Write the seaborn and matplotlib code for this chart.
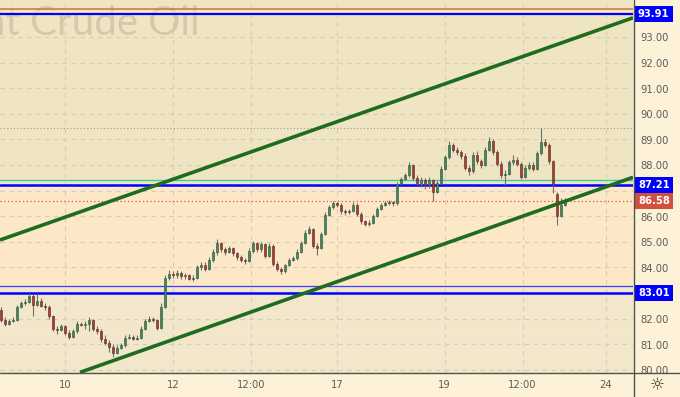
import matplotlib
matplotlib.use('Agg')
import matplotlib.pyplot as plt
from matplotlib.lines import Line2D
from matplotlib.patches import Rectangle
import seaborn as sns
import numpy as np

# ---------------- data ----------------
open_ = [82.35, 81.95, 81.80, 81.90, 81.95, 82.45, 82.60, 82.65, 82.90, 82.55,
         82.70, 82.50, 82.45, 82.10, 81.60, 81.55, 81.70, 81.45, 81.30, 81.50,
         81.80, 81.75, 81.80, 81.95, 81.60, 81.50, 81.20, 81.05, 80.90, 80.65,
         80.85, 80.95, 81.25, 81.30, 81.20, 81.25, 81.60, 81.90, 82.00, 81.95,
         81.65, 82.45, 83.60, 83.75, 83.70, 83.80, 83.65, 83.70, 83.55, 83.60,
         84.00, 84.10, 83.95, 84.30, 84.60, 84.95, 84.70, 84.60, 84.75, 84.55,
         84.40, 84.30, 84.25, 84.65, 84.95, 84.70, 84.90, 84.45, 84.85, 84.15,
         83.95, 83.85, 84.10, 84.30, 84.35, 84.60, 84.95, 85.35, 85.50, 84.85,
         84.75, 85.30, 86.05, 86.35, 86.50, 86.45, 86.20, 86.15, 86.20, 86.45,
         86.10, 85.80, 85.70, 85.75, 86.00, 86.30, 86.45, 86.50, 86.55, 86.50,
         87.25, 87.45, 87.60, 88.00, 87.50, 87.30, 87.40, 87.20, 87.40, 86.95,
         87.30, 87.85, 88.30, 88.80, 88.60, 88.50, 88.35, 87.90, 87.75, 88.40,
         88.15, 88.00, 88.60, 88.95, 88.50, 88.05, 87.60, 87.65, 88.10, 88.20,
         88.05, 87.55, 87.90, 88.00, 87.85, 88.45, 88.90, 88.80, 88.15, 86.85,
         86.00, 86.45]
close = [81.95, 81.80, 81.90, 81.95, 82.45, 82.60, 82.65, 82.90, 82.55, 82.70,
         82.50, 82.45, 82.10, 81.60, 81.55, 81.70, 81.45, 81.30, 81.50, 81.80,
         81.75, 81.80, 81.95, 81.60, 81.50, 81.20, 81.05, 80.90, 80.65, 80.85,
         80.95, 81.25, 81.30, 81.20, 81.25, 81.60, 81.90, 82.00, 81.95, 81.65,
         82.45, 83.60, 83.75, 83.70, 83.80, 83.65, 83.70, 83.55, 83.60, 84.00,
         84.10, 83.95, 84.30, 84.60, 84.95, 84.70, 84.60, 84.75, 84.55, 84.40,
         84.30, 84.25, 84.65, 84.95, 84.70, 84.90, 84.45, 84.85, 84.15, 83.95,
         83.85, 84.10, 84.30, 84.35, 84.60, 84.95, 85.35, 85.50, 84.85, 84.75,
         85.30, 86.05, 86.35, 86.50, 86.45, 86.20, 86.15, 86.20, 86.45, 86.10,
         85.80, 85.70, 85.75, 86.00, 86.30, 86.45, 86.50, 86.55, 86.50, 87.25,
         87.45, 87.60, 88.00, 87.50, 87.30, 87.40, 87.20, 87.40, 86.95, 87.30,
         87.85, 88.30, 88.80, 88.60, 88.50, 88.35, 87.90, 87.75, 88.40, 88.15,
         88.00, 88.60, 88.95, 88.50, 88.05, 87.60, 87.65, 88.10, 88.20, 88.05,
         87.55, 87.90, 88.00, 87.85, 88.45, 88.90, 88.80, 88.15, 87.25, 86.00,
         86.45, 86.58]
high = [82.45, 82.05, 82.00, 82.05, 82.55, 82.70, 82.75, 83.00, 82.95, 82.95,
        82.80, 82.60, 82.55, 82.15, 81.70, 81.80, 81.75, 81.55, 81.60, 81.90,
        81.85, 81.90, 82.05, 82.00, 81.70, 81.60, 81.35, 81.15, 81.00, 80.95,
        81.05, 81.35, 81.40, 81.35, 81.35, 81.70, 82.00, 82.10, 82.05, 82.00,
        82.60, 83.70, 83.90, 83.85, 83.90, 83.85, 83.80, 83.75, 83.70, 84.10,
        84.20, 84.20, 84.40, 84.70, 85.10, 85.00, 84.80, 84.85, 84.80, 84.60,
        84.50, 84.35, 84.75, 85.05, 85.00, 85.00, 84.95, 84.95, 84.90, 84.25,
        84.00, 84.15, 84.35, 84.45, 84.70, 85.05, 85.45, 85.60, 85.55, 84.95,
        85.40, 86.15, 86.45, 86.60, 86.55, 86.50, 86.30, 86.30, 86.55, 86.50,
        86.15, 85.85, 85.85, 86.10, 86.35, 86.50, 86.60, 86.65, 86.60, 87.35,
        87.55, 87.70, 88.10, 88.05, 87.60, 87.55, 87.50, 87.55, 87.45, 87.40,
        87.95, 88.40, 88.95, 88.85, 88.70, 88.60, 88.45, 88.00, 88.50, 88.55,
        88.25, 88.70, 89.10, 89.00, 88.60, 88.15, 87.80, 88.20, 88.40, 88.30,
        88.10, 88.00, 88.10, 88.10, 88.55, 89.45, 89.00, 88.85, 88.20, 86.95,
        86.70, 86.70]
low = [81.85, 81.70, 81.75, 81.85, 81.90, 82.40, 82.55, 82.60, 82.10, 82.50,
       82.45, 82.35, 82.00, 81.50, 81.40, 81.50, 81.35, 81.20, 81.25, 81.45,
       81.70, 81.60, 81.50, 81.50, 81.40, 81.10, 80.95, 80.70, 80.50, 80.60,
       80.80, 80.90, 81.20, 81.15, 81.15, 81.20, 81.55, 81.85, 81.85, 81.55,
       81.60, 82.40, 83.50, 83.60, 83.60, 83.55, 83.55, 83.50, 83.45, 83.55,
       83.90, 83.85, 83.90, 84.20, 84.50, 84.60, 84.50, 84.55, 84.45, 84.30,
       84.20, 84.15, 84.20, 84.55, 84.60, 84.60, 84.35, 84.40, 84.05, 83.85,
       83.75, 83.80, 84.05, 84.25, 84.30, 84.55, 84.90, 85.30, 84.75, 84.50,
       84.70, 85.25, 86.00, 86.30, 86.35, 86.10, 86.05, 86.10, 86.15, 86.00,
       85.70, 85.60, 85.60, 85.70, 85.95, 86.25, 86.40, 86.45, 86.40, 86.45,
       87.20, 87.40, 87.55, 87.40, 87.20, 87.15, 87.05, 87.10, 86.60, 86.90,
       87.25, 87.80, 88.25, 88.50, 88.40, 88.25, 87.80, 87.60, 87.70, 88.05,
       87.90, 87.95, 88.55, 88.40, 87.95, 87.50, 87.20, 87.60, 88.00, 87.95,
       87.45, 87.50, 87.80, 87.75, 87.80, 88.40, 88.70, 88.05, 86.90, 85.65,
       85.95, 86.40]

price_ticks = [80, 81, 82, 83, 84, 85, 86, 87, 88, 89, 90, 91, 92, 93]
date_labels = ["10", "12", "12:00", "17", "19", "12:00", "24"]
date_pos = [16.0, 43.0, 62.6, 84.0, 110.9, 130.4, 151.25]

level_labels = [93.91, 87.21, 83.01]
last_price = 86.58
upper_channel = ([-0.25, 158.0], [85.07, 93.75])
lower_channel = ([19.75, 158.0], [79.90, 87.52])

# ---------------- figure ----------------
sns.set_style('white')
plt.rcParams['font.family'] = ['DejaVu Sans']

W, H = 680, 397
AX_W, AX_H = 633, 373
fig = plt.figure(figsize=(W / 100, H / 100), dpi=100)
fig.patch.set_facecolor('#fdf2d8')
ax = fig.add_axes([0, (H - AX_H) / H, AX_W / W, AX_H / H])
ax.set_xlim(-0.25, 158.0)
ax.set_ylim(79.875, 94.445)
for s in ax.spines.values():
    s.set_visible(False)
ax.set_xticks([])
ax.set_yticks([])

# zones
ax.axhspan(87.21, 96, color='#efe5c2', zorder=0, lw=0)
ax.axhspan(83.27, 87.21, color='#fce7c7', zorder=0, lw=0)
ax.axhspan(78, 83.27, color='#f2e6cb', zorder=0, lw=0)

# grid
for p in price_ticks:
    ax.axhline(p, color='#d6cdb8', lw=0.8, ls=(0, (4, 4)), zorder=1)
for xp in date_pos:
    ax.axvline(xp, color='#d6cdb8', lw=0.8, ls=(0, (4, 4)), zorder=1)

# watermark
ax.text(0.316, 0.905, 'Brent Crude Oil', transform=ax.transAxes, ha='right',
        va='baseline', fontsize=29, color='#d3caae', family='Lato',
        zorder=1.5, clip_on=True)

# horizontal levels
ax.axhline(94.08, color='#d07a5a', lw=1.2, zorder=2)
ax.axhline(94.0, color='#f5f0a0', lw=1.0, zorder=2)
ax.axhline(93.91, color='#0000ff', lw=1.6, zorder=2)
ax.axhline(89.45, color='#9a9a9a', lw=0.8, ls=(0, (1, 2)), zorder=2)
ax.axhline(87.43, color='#3ccf9a', lw=1.0, zorder=2)
ax.axhline(87.21, color='#0000ff', lw=1.8, zorder=2)
ax.axhline(last_price, color='#e0503c', lw=0.9, ls=(0, (1, 2)), zorder=2)
ax.axhline(83.28, color='#3d3dff', lw=0.9, zorder=2)
ax.axhline(83.01, color='#0000ff', lw=1.8, zorder=2)

# candles
o = np.array(open_); c = np.array(close)
hi = np.array(high); lo = np.array(low)
x = np.arange(len(c))
up = c >= o
ax.vlines(x, lo, hi, color='#707070', lw=0.8, zorder=3)
ax.bar(x[up], np.maximum(c[up] - o[up], 0.04), bottom=o[up], width=0.7,
       color='#3f8a5e', edgecolor='#2d4d38', lw=0.4, zorder=4)
ax.bar(x[~up], np.minimum(c[~up] - o[~up], -0.04), bottom=o[~up], width=0.7,
       color='#b33a30', edgecolor='#4a2a26', lw=0.4, zorder=4)

# channel lines
ax.plot(*upper_channel, color='#1f6b1f', lw=2.6, zorder=5, solid_capstyle='butt')
ax.plot(*lower_channel, color='#1f6b1f', lw=2.6, zorder=5, solid_capstyle='butt')


def fy(price):
    """figure-fraction y of a price"""
    return ax.transData.transform((0, price))[1] / H


def fx(xv):
    return ax.transData.transform((xv, 0))[0] / W


# right price scale (figure-level so the bottom strip clips 80.00)
for p in price_ticks:
    fig.text(640 / W, fy(p) - 1.5 / H, f'{p:.2f}', ha='left', va='center',
             fontsize=7.2, color='#5c5c5c', zorder=6)
for lv in level_labels:
    fig.text(638 / W, fy(lv), f'{lv:.2f}', ha='left', va='center',
             fontsize=7.2, color='white', fontweight='bold', zorder=7,
             bbox=dict(boxstyle='square,pad=0.3', fc='#0000ff', ec='none'))
fig.text(638 / W, fy(last_price), f'{last_price:.2f}', ha='left', va='center',
         fontsize=7.2, color='white', fontweight='bold', zorder=7,
         bbox=dict(boxstyle='square,pad=0.3', fc='#d2503e', ec='none'))

# bottom strip
fig.add_artist(Rectangle((0, 0), 1, (H - AX_H - 0.5) / H, transform=fig.transFigure,
                         fc='#fdf2d8', ec='none', zorder=8))
for xp, lab in zip(date_pos, date_labels):
    fig.text(fx(xp), 12 / H, lab, ha='center', va='center',
             fontsize=7.2, color='#5c5c5c', zorder=9)
fig.add_artist(Line2D([0, 1], [(H - AX_H) / H] * 2, transform=fig.transFigure,
                      color='#505050', lw=1.0, zorder=10))
fig.add_artist(Line2D([633.5 / W, 633.5 / W], [0, 1], transform=fig.transFigure,
                      color='#505050', lw=1.0, zorder=10))
fig.text(657 / W, 12 / H, '\u263c', ha='center', va='center', fontsize=12,
         color='#333333', zorder=11)

fig.savefig('out.png', dpi=100, facecolor=fig.get_facecolor())
